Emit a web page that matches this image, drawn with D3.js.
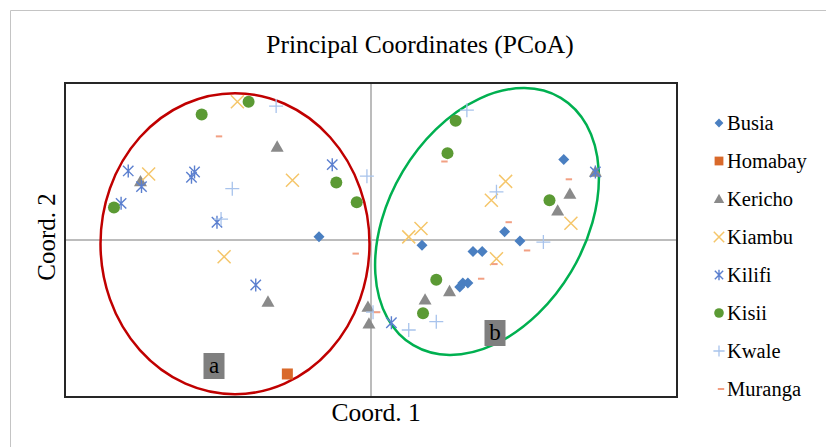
<!DOCTYPE html>
<html lang="en">
<head>
<meta charset="UTF-8">
<title>PCoA</title>
<style>
  body { margin: 0; background: #fff; }
  text { font-family: "Liberation Serif", "Times New Roman", serif; fill: #000; }
</style>
</head>
<body>
<script src="https://d3js.org/d3.v7.min.js"></script>
<script>
// PCoA coordinates, one pair of arrays per region
const regions = ["Busia", "Homabay", "Kericho", "Kiambu", "Kilifi", "Kisii", "Kwale", "Muranga"];

const busiaX = [-0.51, 0.50, 1.00, 1.09, 1.31, 1.46, 1.89, 0.87, 0.90, 0.95];
const busiaY = [0.03, -0.05, -0.11, -0.11, 0.08, -0.01, 0.77, -0.45, -0.41, -0.41];
const homabayX = [-0.82];
const homabayY = [-1.28];
const kerichoX = [-2.26, -0.92, -1.01, -0.03, -0.02, 0.53, 0.77, 1.95, 1.83, 2.20];
const kerichoY = [0.56, 0.89, -0.59, -0.64, -0.80, -0.57, -0.49, 0.44, 0.28, 0.65];
const kiambuX = [-1.31, -2.18, -0.77, -1.44, 0.37, 0.49, 1.32, 1.18, 1.96, 1.23];
const kiambuY = [1.32, 0.63, 0.57, -0.16, 0.03, 0.11, 0.56, 0.38, 0.16, -0.18];
const kilifiX = [-2.38, -2.25, -1.73, -1.76, -2.45, -1.51, -0.38, -1.13, 0.20, 2.20];
const kilifiY = [0.66, 0.51, 0.65, 0.60, 0.35, 0.17, 0.72, -0.43, -0.79, 0.65];
const kisiiX = [-1.66, -1.20, -2.52, -0.34, -0.14, 0.83, 0.75, 1.75, 0.64, 0.51];
const kisiiY = [1.20, 1.32, 0.31, 0.55, 0.36, 1.14, 0.83, 0.38, -0.38, -0.70];
const kwaleX = [-0.93, -1.36, -1.47, -0.04, 0.94, 1.23, 1.69, 0.02, 0.64, 0.37];
const kwaleY = [1.28, 0.49, 0.20, 0.61, 1.24, 0.46, -0.02, -0.69, -0.78, -0.86];
const murangaX = [-1.49, -0.15, 0.06, 0.72, 1.94, 1.35, 1.53, 1.21, 1.08];
const murangaY = [0.99, -0.13, -0.69, 0.75, 0.58, 0.17, -0.10, -0.23, -0.37];

const seriesX = [busiaX, homabayX, kerichoX, kiambuX, kilifiX, kisiiX, kwaleX, murangaX];
const seriesY = [busiaY, homabayY, kerichoY, kiambuY, kilifiY, kisiiY, kwaleY, murangaY];

const colors = ["#4a7fc1", "#d9692a", "#8a8a8a", "#f5c66a", "#5b7fcf", "#5b9a34", "#a8c3ec", "#f2a083"];

// Excel-like marker shapes (size = half width in px)
const diamond = { draw(c, s) { c.moveTo(0, -s); c.lineTo(s, 0); c.lineTo(0, s); c.lineTo(-s, 0); c.closePath(); } };
const square = { draw(c, s) { c.rect(-s, -s, 2 * s, 2 * s); } };
const triangle = { draw(c, s) { c.moveTo(0, -s); c.lineTo(s, s * 0.75); c.lineTo(-s, s * 0.75); c.closePath(); } };
const circle = { draw(c, s) { c.moveTo(s, 0); c.arc(0, 0, s, 0, 2 * Math.PI); } };
const times = { draw(c, s) { c.moveTo(-s, -s); c.lineTo(s, s); c.moveTo(-s, s); c.lineTo(s, -s); } };
const aster = { draw(c, s) { c.moveTo(-s * 0.8, -s * 0.8); c.lineTo(s * 0.8, s * 0.8); c.moveTo(-s * 0.8, s * 0.8); c.lineTo(s * 0.8, -s * 0.8); c.moveTo(0, -s); c.lineTo(0, s); } };
const plus = { draw(c, s) { c.moveTo(-s, 0); c.lineTo(s, 0); c.moveTo(0, -s); c.lineTo(0, s); } };
const dash = { draw(c, s) { c.moveTo(-s, 0); c.lineTo(s, 0); } };

const shapeTypes = [diamond, square, triangle, times, aster, circle, plus, dash];
const filled = [true, true, true, false, false, true, false, false];
const sizes = [5.5, 5.5, 6.5, 6.5, 6.5, 6, 7, 3.2];
const strokeW = [0, 0, 0, 1.5, 1.4, 0, 1.3, 2];

const width = 826, height = 447;
const svg = d3.select("body").append("svg")
    .attr("width", width)
    .attr("height", height);

// outer chart border (cut off at right/bottom)
svg.append("path")
    .attr("d", "M10.5," + height + "V10.5H" + width)
    .attr("fill", "none")
    .attr("stroke", "#c4c4c4")
    .attr("stroke-width", 1);

const plot = { left: 65, top: 83, right: 677, bottom: 397 };

const x = d3.scaleLinear().domain([-3, 3]).range([plot.left, plot.right]);
const y = d3.scaleLinear().domain([-1.5, 1.5]).range([plot.bottom, plot.top]);

// zero lines
svg.append("line")
    .attr("x1", x(0)).attr("x2", x(0))
    .attr("y1", plot.top).attr("y2", plot.bottom)
    .attr("stroke", "#a6a6a6").attr("stroke-width", 1.5);
svg.append("line")
    .attr("x1", plot.left).attr("x2", plot.right)
    .attr("y1", y(0)).attr("y2", y(0))
    .attr("stroke", "#a6a6a6").attr("stroke-width", 1.5);

// group ellipses
svg.append("ellipse")
    .attr("cx", 235).attr("cy", 243.7)
    .attr("rx", 134.5).attr("ry", 150.5)
    .attr("fill", "none")
    .attr("stroke", "#c00000")
    .attr("stroke-width", 2.5);

svg.append("ellipse")
    .attr("transform", "translate(487,221.5) rotate(-59.2)")
    .attr("rx", 144).attr("ry", 98)
    .attr("fill", "none")
    .attr("stroke", "#00b050")
    .attr("stroke-width", 2.5);

// points
regions.forEach(function(name, i) {
    const sym = d3.symbol().type(shapeTypes[i]).size(sizes[i]);
    const pts = seriesX[i].map(function(v, j) { return [v, seriesY[i][j]]; });
    svg.append("g").attr("class", "series " + name)
        .selectAll("path")
        .data(pts)
        .enter()
        .append("path")
        .attr("transform", function(d) { return "translate(" + x(d[0]) + "," + y(d[1]) + ")"; })
        .attr("d", sym)
        .attr("fill", filled[i] ? colors[i] : "none")
        .attr("stroke", filled[i] ? "none" : colors[i])
        .attr("stroke-width", strokeW[i]);
});

// group labels
const groupLabels = [{ t: "a", x: 214, y: 366 }, { t: "b", x: 495, y: 333 }];
groupLabels.forEach(function(g) {
    svg.append("rect")
        .attr("x", g.x - 10.5).attr("y", g.y - 13)
        .attr("width", 21).attr("height", 26)
        .attr("fill", "#7f7f7f");
    svg.append("text")
        .attr("x", g.x).attr("y", g.y + 7)
        .attr("text-anchor", "middle")
        .attr("font-size", 23)
        .text(g.t);
});

// plot frame
svg.append("rect")
    .attr("x", plot.left).attr("y", plot.top)
    .attr("width", plot.right - plot.left)
    .attr("height", plot.bottom - plot.top)
    .attr("fill", "none")
    .attr("stroke", "#262626")
    .attr("stroke-width", 2);

// title and axis labels
svg.append("text")
    .attr("x", 420).attr("y", 53)
    .attr("text-anchor", "middle")
    .attr("font-size", 25.5)
    .text("Principal Coordinates (PCoA)");

svg.append("text")
    .attr("x", 376).attr("y", 421)
    .attr("text-anchor", "middle")
    .attr("font-size", 25.5)
    .text("Coord. 1");

svg.append("text")
    .attr("transform", "translate(55," + 237 + ") rotate(-90)")
    .attr("text-anchor", "middle")
    .attr("font-size", 25)
    .text("Coord. 2");

// legend
const legend = svg.append("g").attr("transform", "translate(719,123)");
regions.forEach(function(name, i) {
    const row = legend.append("g").attr("transform", "translate(0," + (i * 38) + ")");
    const s = i === 7 ? sizes[i] : sizes[i] * 0.8;
    row.append("path")
        .attr("transform", i === 7 ? "translate(2,0)" : null)
        .attr("d", d3.symbol().type(shapeTypes[i]).size(s))
        .attr("fill", filled[i] ? colors[i] : "none")
        .attr("stroke", filled[i] ? "none" : colors[i])
        .attr("stroke-width", strokeW[i]);
    row.append("text")
        .attr("x", 8).attr("y", 6.5)
        .attr("font-size", 20.5)
        .text(name);
});
</script>
</body>
</html>
